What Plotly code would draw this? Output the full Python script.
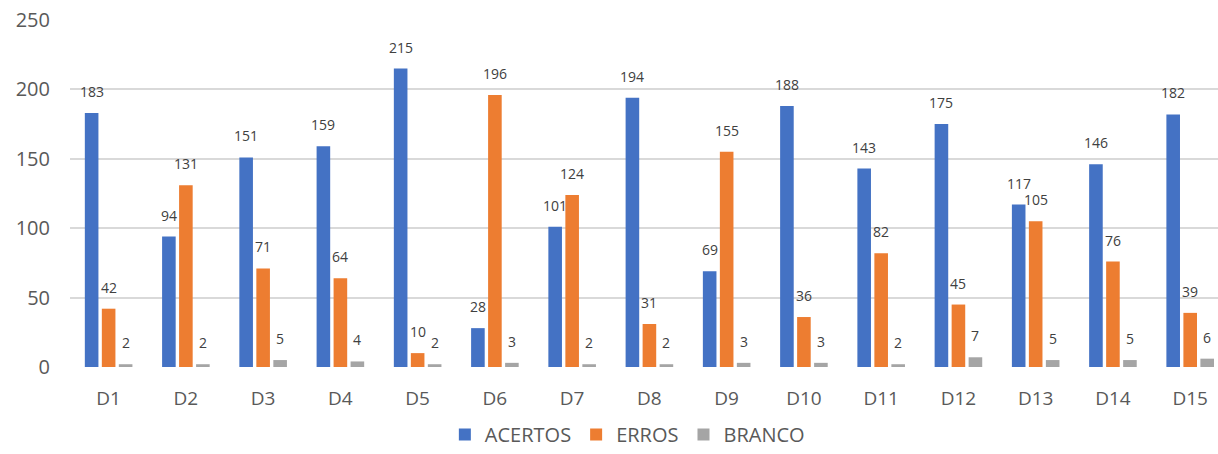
import plotly.graph_objects as go

categories = ["D1", "D2", "D3", "D4", "D5", "D6", "D7", "D8", "D9", "D10",
              "D11", "D12", "D13", "D14", "D15"]
acertos = [183, 94, 151, 159, 215, 28, 101, 194, 69, 188, 143, 175, 117, 146, 182]
erros = [42, 131, 71, 64, 10, 196, 124, 31, 155, 36, 82, 45, 105, 76, 39]
branco = [2, 2, 5, 4, 2, 3, 2, 2, 3, 3, 2, 7, 5, 5, 6]
y_ticks = [0, 50, 100, 150, 200, 250]

series = [
    ("ACERTOS", acertos, "#4472C4"),
    ("ERROS", erros, "#ED7D31"),
    ("BRANCO", branco, "#A5A5A5"),
]

W, H = 1218, 454
M_L, M_R, M_T, M_B = 70, 0, 20, 85
x_range = [-0.5, 14.36]
bargap = 0.34
bargroupgap = 0.2

fig = go.Figure()
for name, vals, color in series:
    fig.add_trace(go.Bar(
        x=categories, y=vals, name=name,
        marker=dict(color=color, line=dict(width=0)),
        hoverinfo="x+y+name",
    ))

# value labels above each bar, shifted to the bar's slot inside its group
cat_px = (W - M_L - M_R) / (x_range[1] - x_range[0])
slot_px = cat_px * (1 - bargap) / len(series)
annotations = []
for i, (name, vals, color) in enumerate(series):
    for c, v in zip(categories, vals):
        annotations.append(dict(
            x=c, y=v, xref="x", yref="y", text=str(v), showarrow=False,
            xanchor="center", yanchor="bottom",
            xshift=(i - 1) * slot_px, yshift=10,
            font=dict(family="Open Sans", size=14, color="#404040"),
        ))

fig.update_layout(
    width=W, height=H,
    margin=dict(l=M_L, r=M_R, t=M_T, b=M_B),
    paper_bgcolor="white", plot_bgcolor="white",
    barmode="group", bargap=bargap, bargroupgap=bargroupgap,
    font=dict(family="Open Sans", color="#595959"),
    annotations=annotations,
    legend=dict(
        orientation="h", x=0.4855, xanchor="center", y=-0.195, yanchor="middle",
        font=dict(size=20, color="#595959"),
        itemwidth=30, tracegroupgap=0,
        itemclick=False,
    ),
    xaxis=dict(
        range=x_range, showgrid=False, zeroline=False, showline=False,
        ticks="", tickfont=dict(size=19, color="#595959"),
        ticklabelstandoff=18,
    ),
    yaxis=dict(
        range=[0, 250], tickvals=y_ticks, showgrid=True,
        gridcolor="#D9D9D9", gridwidth=1.5, zeroline=False, showline=False,
        ticks="", tickfont=dict(size=20, color="#595959"),
        ticklabelstandoff=19,
    ),
)

fig.write_html("out.html")
